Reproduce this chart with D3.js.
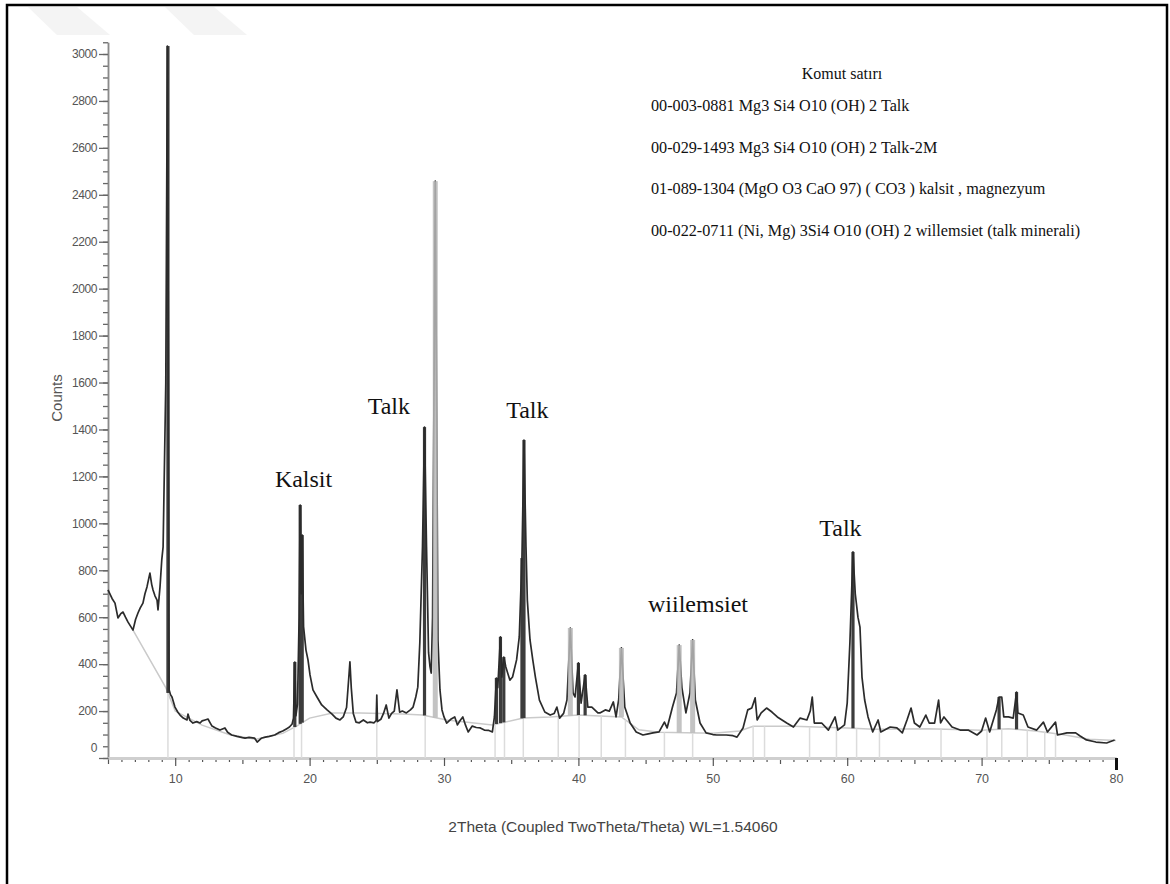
<!doctype html>
<html>
<head>
<meta charset="utf-8">
<script src="https://d3js.org/d3.v7.min.js"></script>
<style>
    html, body {
        margin: 0;
        background: #fff;
        overflow: hidden;
    }
</style>
</head>
<body>
<script>
var twoTheta = [5.0, 5.3, 5.52, 5.74, 5.95, 6.12, 6.3, 6.49, 6.7, 6.86, 7.05, 7.23, 7.4, 7.6, 7.75, 7.9, 8.05, 8.12, 8.25, 8.35, 8.5, 8.65, 8.72, 8.87, 9.0,
    9.1, 9.3, 9.42, 9.5, 9.55, 9.65, 9.76, 9.98, 10.2, 10.36, 10.6, 10.88, 10.95, 11.1, 11.32, 11.6, 11.85, 12.0, 12.22, 12.44, 12.6, 12.74, 13.0, 13.33,
    13.7, 13.9, 14.2, 14.6, 15.0, 15.2, 15.5, 15.9, 16.1, 16.4, 16.7, 17.0, 17.4, 17.7, 18.0, 18.3, 18.5, 18.7, 18.8, 18.9, 18.98, 19.1, 19.22, 19.3,
    19.38, 19.45, 19.55, 19.73, 19.88, 20.03, 20.25, 20.55, 20.9, 21.3, 21.67, 21.96, 22.26, 22.5, 22.75, 22.9, 23.0, 23.1, 23.25, 23.45, 23.7, 24.0,
    24.3, 24.5, 24.8, 24.95, 25.0, 25.05, 25.3, 25.5, 25.7, 25.9, 26.1, 26.3, 26.5, 26.7, 26.9, 27.2, 27.5, 27.7, 27.9, 28.05, 28.2, 28.4, 28.55, 28.7,
    28.85, 28.96, 29.05, 29.15, 29.25, 29.35, 29.45, 29.55, 29.7, 29.85, 30.0, 30.2, 30.5, 30.8, 31.0, 31.2, 31.4, 31.6, 31.8, 32.1, 32.4, 32.7, 33.0,
    33.3, 33.6, 33.75, 33.9, 34.0, 34.2, 34.3, 34.45, 34.6, 34.9, 35.1, 35.4, 35.6, 35.8, 35.95, 36.1, 36.2, 36.4, 36.6, 36.8, 37.1, 37.5, 37.9, 38.2,
    38.4, 38.6, 38.9, 39.15, 39.4, 39.6, 39.75, 40.0, 40.2, 40.5, 40.7, 41.0, 41.45, 41.6, 42.0, 42.3, 42.6, 42.8, 43.0, 43.2, 43.45, 43.85, 44.3, 44.8,
    45.2, 45.55, 46.0, 46.4, 46.6, 47.0, 47.3, 47.5, 47.7, 48.0, 48.3, 48.5, 48.7, 49.05, 49.5, 50.0, 50.3, 51.0, 51.5, 51.8, 52.25, 52.6, 52.9, 53.15,
    53.3, 53.6, 54.0, 54.4, 54.8, 55.5, 56.0, 56.5, 57.0, 57.25, 57.4, 57.55, 58.1, 58.6, 59.1, 59.3, 59.8, 60.0, 60.2, 60.43, 60.6, 60.8, 60.95, 61.1,
    61.3, 61.55, 61.9, 62.3, 62.5, 63.2, 63.7, 64.1, 64.45, 64.75, 65.0, 65.4, 65.85, 66.1, 66.5, 66.8, 66.95, 67.2, 67.8, 68.4, 69.0, 69.66, 70.0,
    70.3, 70.6, 71.1, 71.3, 71.5, 71.65, 72.0, 72.35, 72.6, 72.7, 73.1, 73.45, 74.1, 74.6, 74.9, 75.5, 75.65, 76.35, 77.0, 77.3, 77.8, 78.5, 79.3, 79.9];
var counts = [716, 680, 660, 597, 615, 622, 600, 579, 560, 545, 590, 618, 640, 660, 700, 729, 770, 788, 740, 716, 690, 673, 631, 729, 844,
    900, 1600, 3034, 1600, 290, 270, 260, 217, 195, 183, 170, 162, 187, 160, 149, 155, 149, 158, 162, 166, 150, 136, 128, 119,
    128, 110, 98, 92, 87, 85, 88, 85, 68, 84, 89, 92, 98, 108, 115, 125, 132, 145, 170, 409, 180, 230, 600, 1078,
    700, 950, 560, 460, 418, 354, 290, 260, 226, 205, 187, 170, 162, 175, 215, 330, 410, 300, 190, 153, 150, 162,
    150, 153, 150, 160, 268, 155, 165, 190, 226, 170, 190, 200, 290, 195, 200, 192, 205, 217, 260, 302, 490, 900, 1410, 900,
    450, 388, 362, 600, 1500, 2458, 1500, 503, 290, 205, 175, 149, 165, 175, 141, 160, 175, 140, 111, 136, 130, 128, 119,
    118, 111, 175, 341, 300, 516, 345, 430, 388, 332, 345, 418, 516, 852, 1355, 900, 673, 503, 420, 345, 247, 196, 183, 190,
    217, 170, 190, 247, 554, 277, 260, 405, 234, 354, 217, 217, 192, 192, 205, 200, 239, 175, 250, 469, 217, 149, 111, 98,
    103, 107, 111, 153, 128, 217, 277, 481, 300, 192, 277, 503, 247, 149, 107, 100, 98, 98, 95, 89, 128, 205, 213, 256,
    162, 192, 213, 196, 175, 149, 132, 170, 162, 200, 260, 149, 149, 119, 175, 119, 141, 234, 490, 878, 700, 600, 558, 345,
    247, 175, 111, 162, 111, 132, 128, 107, 162, 213, 149, 132, 183, 149, 149, 247, 150, 175, 132, 119, 119, 98, 115,
    170, 111, 205, 260, 260, 175, 175, 170, 281, 192, 183, 132, 119, 153, 111, 153, 98, 107, 107, 95, 77, 68, 64, 77];

// fitted background
var bgTheta = [6.86, 9.3, 10, 12, 14, 16, 18, 19, 20, 21.7, 23.75, 26.9, 28.4, 30.2, 33.6, 35.9, 37.9, 40, 43.2, 44.5, 46, 48, 50, 52, 53,
    56, 60, 62, 66, 70, 72, 74, 76, 78, 80];
var bgCounts = [545, 300, 200, 140, 100, 80, 105, 135, 170, 192, 192, 187, 183, 162, 141, 170, 175, 183, 175, 120, 110, 108, 105, 115, 135,
    135, 128, 122, 125, 118, 125, 115, 100, 80, 75];

// reference line positions (drop lines)
var refTheta = [9.46, 18.84, 19.4, 25.0, 28.6, 33.8, 34.5, 35.9, 38.5, 40.05, 41.7, 43.5, 46.4, 48.5, 53.0, 53.85, 57.2, 59.2, 60.7, 62.4,
    66.98, 70.4, 71.5, 73.4, 74.7, 75.5];

// identified peak bars
var peakTheta = [9.46, 18.9, 19.3, 19.45, 28.55, 29.35, 33.9, 34.2, 34.45, 35.8, 35.95, 39.4, 40.0, 40.5, 43.2, 47.5, 48.5, 60.43, 71.3, 72.6];
var peakTop = [3034, 409, 1078, 950, 1410, 2458, 341, 516, 430, 852, 1355, 554, 405, 354, 469, 481, 503, 878, 260, 281];
var peakPhase = ["talk", "talk", "talk", "talk", "talk", "kalsit", "talk", "talk", "talk", "talk", "talk", "kalsit", "talk", "talk",
    "kalsit", "kalsit", "kalsit", "talk", "talk", "talk"];

var xTicks = [10, 20, 30, 40, 50, 60, 70, 80];
var yTicks = d3.range(0, 3001, 200);

var noteText = ["Kalsit", "Talk", "Talk", "wiilemsiet", "Talk"];
var noteTheta = [19.55, 25.9, 36.2, 48.9, 59.5];
var noteCounts = [1155, 1466, 1449, 622, 946];

var legendTitle = "Komut satırı";
var legendLines = [
    "00-003-0881 Mg3 Si4 O10 (OH) 2 Talk",
    "00-029-1493 Mg3 Si4 O10 (OH) 2 Talk-2M",
    "01-089-1304 (MgO O3 CaO 97) ( CO3 ) kalsit , magnezyum",
    "00-022-0711 (Ni, Mg) 3Si4 O10 (OH) 2 willemsiet (talk minerali)"
];

(function(){
    var w = 1170, h = 884;
    var sans = '"Liberation Sans", Arial, sans-serif',
        serif = '"Liberation Serif", "Times New Roman", serif';

    var svg = d3.select("body").append("svg")
        .attr("width", w)
        .attr("height", h);

    // faint watermark bands at the top
    [28, 165].forEach(function(x0){
        svg.append("path")
            .attr("d", "M" + x0 + ",7 L" + (x0 + 49) + ",7 L" + (x0 + 82) + ",35 L" + (x0 + 29) + ",35 Z")
            .attr("fill", "#f4f4f4");
    });

    var x = d3.scaleLinear().domain([5, 80]).range([108, 1116]);
    var y = d3.scaleLinear().domain([0, 3050]).range([758, 758 - 3050 * 704 / 3000]);

    var bg = d3.zip(bgTheta, bgCounts);
    function bgAt(t){
        if (t <= bgTheta[0]) return bgCounts[0];
        var i = d3.bisectRight(bgTheta, t);
        if (i >= bgTheta.length) return bgCounts[bgCounts.length - 1];
        var a = bg[i - 1], b = bg[i];
        return a[1] + (b[1] - a[1]) * (t - a[0]) / (b[0] - a[0]);
    }

    // axes
    var yMinor = svg.append("g").attr("transform", "translate(108,0)")
        .call(d3.axisLeft(y).tickValues(d3.range(0, 3051, 50)).tickSize(5).tickSizeOuter(0).tickFormat(""));
    var yAxis = svg.append("g").attr("transform", "translate(108,0)")
        .call(d3.axisLeft(y).tickValues(yTicks).tickSize(9).tickPadding(2).tickSizeOuter(0).tickFormat(d3.format("d")));
    [yMinor, yAxis].forEach(function(g){
        g.select(".domain").attr("stroke", "#8a8a8a").attr("stroke-width", 1.5);
        g.selectAll(".tick line").attr("stroke", "#666").attr("stroke-width", 1.3);
    });
    yAxis.selectAll(".tick text")
        .attr("font-family", sans).attr("font-size", 12).attr("fill", "#555")
        .attr("letter-spacing", "-0.4px");
    yAxis.selectAll(".tick").filter(function(d){ return d === 0; })
        .select("text").attr("transform", "translate(0,-10)");

    var xAll = d3.range(5, 81, 1);
    var xMinor = svg.append("g").attr("transform", "translate(0,758)")
        .call(d3.axisBottom(x).tickValues(xAll.filter(function(d){ return d % 10 !== 0; })).tickSize(4).tickSizeOuter(0).tickFormat(""));
    xMinor.selectAll(".tick").filter(function(d){ return d % 5 === 0; }).select("line").attr("y2", 6);
    var xAxis = svg.append("g").attr("transform", "translate(0,758)")
        .call(d3.axisBottom(x).tickValues(xTicks).tickSize(8).tickPadding(8).tickSizeOuter(0));
    [xMinor, xAxis].forEach(function(g){
        g.select(".domain").attr("stroke", "#cfcfcf").attr("stroke-width", 3);
        g.selectAll(".tick line").attr("stroke", "#555").attr("stroke-width", 1.2);
    });
    xAxis.selectAll(".tick text")
        .attr("font-family", sans).attr("font-size", 12.5).attr("fill", "#555");
    xAxis.selectAll(".tick").filter(function(d){ return d === 80; }).select("line")
        .attr("stroke", "#111").attr("stroke-width", 3).attr("y2", 12);

    // background curve
    svg.append("path")
        .datum(bg)
        .attr("fill", "none")
        .attr("stroke", "#cacaca")
        .attr("stroke-width", 1.5)
        .attr("d", d3.line().x(function(d){ return x(d[0]); }).y(function(d){ return y(d[1]); }));

    // drop lines of reference positions
    svg.append("g").selectAll("line")
        .data(refTheta)
        .enter().append("line")
        .attr("x1", function(d){ return x(d); })
        .attr("x2", function(d){ return x(d); })
        .attr("y1", y(0))
        .attr("y2", function(d){ return y(bgAt(d)); })
        .attr("stroke", "#dcdcdc")
        .attr("stroke-width", 1.5);

    var peaks = d3.zip(peakTheta, peakTop, peakPhase);

    // dark peak bars under the pattern
    svg.append("g").selectAll("rect")
        .data(peaks.filter(function(d){ return d[2] === "talk"; }))
        .enter().append("rect")
        .attr("x", function(d){ return x(d[0]) - 1.6; })
        .attr("width", 3.2)
        .attr("y", function(d){ return y(d[1]); })
        .attr("height", function(d){ return y(bgAt(d[0])) - y(d[1]); })
        .attr("fill", "#3c3c3c");

    // measured pattern
    svg.append("path")
        .datum(d3.zip(twoTheta, counts))
        .attr("fill", "none")
        .attr("stroke", "#2b2b2b")
        .attr("stroke-width", 1.7)
        .attr("stroke-linejoin", "round")
        .attr("d", d3.line().x(function(d){ return x(d[0]); }).y(function(d){ return y(d[1]); }));

    // lighter phase bars on top
    svg.append("g").selectAll("rect")
        .data(peaks.filter(function(d){ return d[2] === "kalsit"; }))
        .enter().append("rect")
        .attr("x", function(d){ return x(d[0]) - 2.5; })
        .attr("width", 5)
        .attr("y", function(d){ return y(d[1]); })
        .attr("height", function(d){ return y(bgAt(d[0])) - y(d[1]); })
        .attr("fill", "#b9b9b9")
        .attr("opacity", 0.85);

    // axis titles
    svg.append("text")
        .attr("transform", "translate(62,398) rotate(-90)")
        .attr("text-anchor", "middle")
        .attr("font-family", sans).attr("font-size", 15).attr("fill", "#555")
        .text("Counts");
    svg.append("text")
        .attr("x", 613).attr("y", 832)
        .attr("text-anchor", "middle")
        .attr("font-family", sans).attr("font-size", 15.5).attr("fill", "#444")
        .text("2Theta (Coupled TwoTheta/Theta) WL=1.54060");

    // peak annotations
    svg.append("g").selectAll("text")
        .data(d3.zip(noteText, noteTheta, noteCounts))
        .enter().append("text")
        .attr("x", function(d){ return x(d[1]); })
        .attr("y", function(d){ return y(d[2]); })
        .attr("text-anchor", "middle")
        .attr("font-family", serif).attr("font-size", 24).attr("fill", "#111")
        .text(function(d){ return d[0]; });

    // legend
    svg.append("text")
        .attr("x", 842).attr("y", 79)
        .attr("text-anchor", "middle")
        .attr("font-family", serif).attr("font-size", 16).attr("fill", "#111")
        .text(legendTitle);
    svg.append("g").selectAll("text")
        .data(legendLines)
        .enter().append("text")
        .attr("x", 651)
        .attr("y", function(d, i){ return 111 + i * 41.5; })
        .attr("font-family", serif).attr("font-size", 16.2).attr("fill", "#111")
        .text(function(d){ return d; });

    // frame
    svg.append("rect")
        .attr("x", 7).attr("y", 5)
        .attr("width", 1160).attr("height", 900)
        .attr("fill", "none")
        .attr("stroke", "#000")
        .attr("stroke-width", 2.5);
})();
</script>
</body>
</html>
